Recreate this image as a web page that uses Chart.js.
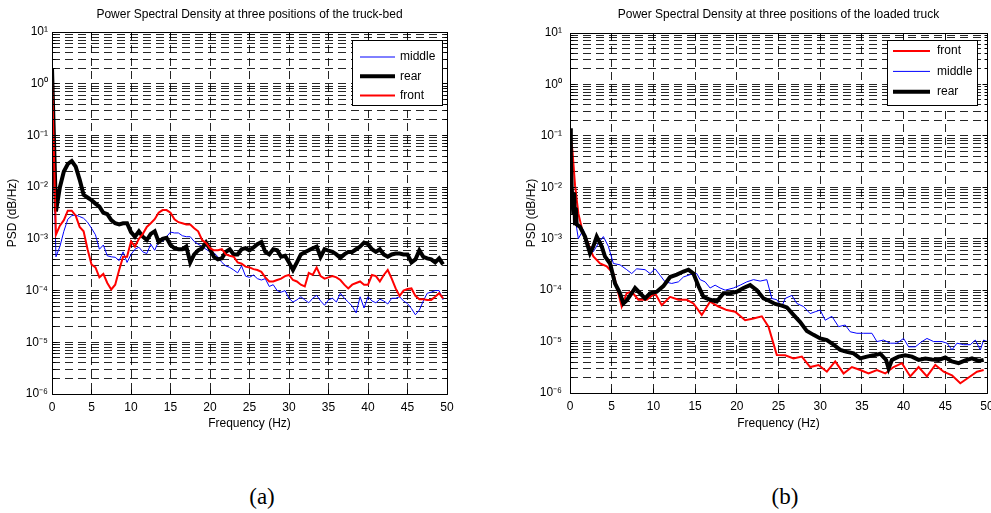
<!DOCTYPE html>
<html><head><meta charset="utf-8">
<script src="https://cdn.jsdelivr.net/npm/chart.js@4/dist/chart.umd.min.js"></script>
<style>
html,body{margin:0;padding:0;width:991px;height:513px;overflow:hidden;background:#fff;}
#c1{position:absolute;left:0;top:0;}
#c2{position:absolute;left:500px;top:0;}
.cap{position:absolute;top:484px;font-family:"Liberation Serif","Times New Roman",serif;font-size:23px;color:#000;transform:translateX(-50%);white-space:nowrap;}
</style></head><body>
<canvas id="c1" width="470" height="440"></canvas>
<canvas id="c2" width="520" height="440"></canvas>
<div class="cap" style="left:262px">(a)</div>
<div class="cap" style="left:785px">(b)</div>
<script>
// ---------- DATA ----------
const titleA = 'Power Spectral Density at three positions of the truck-bed';
const titleB = 'Power Spectral Density at three positions of the loaded truck';
const xTitle = 'Frequency (Hz)';
const yTitle = 'PSD (dB/Hz)';
const yTickLabels = ['10⁻⁶','10⁻⁵','10⁻⁴','10⁻³','10⁻²','10⁻¹','10⁰','10¹'];
const yMinExp = -6, yMaxExp = 1;

// (a) truck-bed, sampled every 0.5 Hz
const freqA = [0,0.5,1,1.5,2,2.5,3,3.5,4,4.5,5,5.5,6,6.5,7,7.5,8,8.5,9,9.5,
  10,10.5,11,11.5,12,12.5,13,13.5,14,14.5,15,15.5,16,16.5,17,17.5,18,18.5,19,19.5,
  20,20.5,21,21.5,22,22.5,23,23.5,24,24.5,25,25.5,26,26.5,27,27.5,28,28.5,29,29.5,
  30,30.5,31,31.5,32,32.5,33,33.5,34,34.5,35,35.5,36,36.5,37,37.5,38,38.5,39,39.5,
  40,40.5,41,41.5,42,42.5,43,43.5,44,44.5,45,45.5,46,46.5,47,47.5,48,48.5,49,49.5];
const middleA = [5.0e-1,4.5e-4,7.1e-4,1.4e-3,2.4e-3,2.8e-3,2.9e-3,2.7e-3,2.5e-3,2.1e-3,
  1.6e-3,1.2e-3,6.3e-4,7.6e-4,4.7e-4,4.5e-4,4.4e-4,3.8e-4,5.6e-4,3.5e-4,
  5.0e-4,6.3e-4,6.9e-4,5.6e-4,5.2e-4,7.9e-4,6.0e-4,9.1e-4,8.9e-4,1.1e-3,
  1.35e-3,1.3e-3,1.3e-3,1.15e-3,1.1e-3,1.1e-3,8.9e-4,7.9e-4,7.1e-4,6.3e-4,
  5.6e-4,5.4e-4,4.5e-4,3.5e-4,3.0e-4,2.8e-4,2.5e-4,2.2e-4,3.0e-4,1.9e-4,
  1.8e-4,2.0e-4,1.7e-4,1.6e-4,1.7e-4,1.2e-4,1.3e-4,1.0e-4,9.3e-5,1.0e-4,
  7.1e-5,6.0e-5,6.6e-5,7.6e-5,6.6e-5,5.8e-5,7.1e-5,8.1e-5,6.3e-5,5.2e-5,
  6.6e-5,7.1e-5,6.0e-5,8.9e-5,7.1e-5,6.0e-5,5.0e-5,3.7e-5,7.6e-5,4.6e-5,
  7.6e-5,6.3e-5,5.8e-5,6.8e-5,6.3e-5,5.5e-5,7.1e-5,7.1e-5,7.6e-5,6.3e-5,
  5.6e-5,4.5e-5,3.4e-5,4.2e-5,6.3e-5,8.9e-5,9.3e-5,1.0e-4,1.0e-4,6.6e-5];
const rearA = [2.0,3.4e-3,1.0e-2,2.0e-2,2.8e-2,3.2e-2,2.5e-2,1.4e-2,7.1e-3,6.3e-3,
  5.6e-3,4.8e-3,4.2e-3,3.2e-3,3.0e-3,2.3e-3,2.0e-3,1.9e-3,2.0e-3,2.0e-3,
  1.35e-3,1.1e-3,1.4e-3,1.1e-3,9.5e-4,1.25e-3,1.4e-3,8.7e-4,1.0e-3,1.05e-3,
  7.6e-4,6.6e-4,6.3e-4,6.3e-4,7.1e-4,3.5e-4,5.0e-4,6.0e-4,6.6e-4,8.5e-4,
  6.3e-4,4.5e-4,4.0e-4,4.2e-4,5.6e-4,6.3e-4,5.0e-4,5.0e-4,6.3e-4,6.6e-4,
  6.0e-4,6.8e-4,7.9e-4,8.7e-4,5.6e-4,5.0e-4,6.3e-4,6.0e-4,4.5e-4,4.7e-4,
  3.5e-4,2.5e-4,3.5e-4,5.0e-4,5.5e-4,6.0e-4,6.6e-4,7.1e-4,4.5e-4,6.3e-4,
  5.9e-4,5.6e-4,5.0e-4,4.3e-4,5.0e-4,5.6e-4,5.6e-4,6.3e-4,7.1e-4,8.5e-4,
  7.9e-4,6.3e-4,5.6e-4,6.3e-4,5.0e-4,4.5e-4,5.0e-4,5.2e-4,5.2e-4,5.0e-4,
  5.0e-4,3.5e-4,4.0e-4,6.0e-4,4.5e-4,4.2e-4,4.0e-4,3.5e-4,4.2e-4,3.2e-4];
const frontA = [1.2,1.2e-3,1.8e-3,2.3e-3,3.5e-3,3.5e-3,2.8e-3,1.7e-3,1.4e-3,6.3e-4,
  3.2e-4,2.8e-4,1.8e-4,2.1e-4,1.4e-4,1.05e-4,1.3e-4,2.5e-4,4.5e-4,4.5e-4,
  8.9e-4,7.1e-4,1.0e-3,1.25e-3,1.7e-3,2.0e-3,2.4e-3,3.2e-3,3.6e-3,3.6e-3,
  3.2e-3,2.4e-3,2.1e-3,2.0e-3,1.9e-3,1.9e-3,1.6e-3,1.4e-3,9.5e-4,8.3e-4,
  6.6e-4,6.0e-4,6.0e-4,6.3e-4,5.0e-4,4.7e-4,4.5e-4,3.5e-4,3.3e-4,2.9e-4,
  2.8e-4,2.6e-4,2.5e-4,2.3e-4,1.8e-4,1.5e-4,1.5e-4,1.6e-4,1.7e-4,1.9e-4,
  2.0e-4,1.6e-4,1.5e-4,1.3e-4,1.2e-4,2.2e-4,2.0e-4,2.8e-4,1.9e-4,1.7e-4,
  1.8e-4,1.9e-4,1.8e-4,1.6e-4,1.3e-4,1.1e-4,1.3e-4,1.4e-4,1.5e-4,1.3e-4,
  1.3e-4,2.0e-4,1.9e-4,1.5e-4,2.0e-4,2.5e-4,1.7e-4,1.1e-4,7.9e-5,1.0e-4,
  1.07e-4,1.1e-4,7.9e-5,6.8e-5,6.8e-5,6.6e-5,6.6e-5,7.6e-5,8.9e-5,7.1e-5];

// (b) loaded truck
const freqBFront = [0,0.3,0.6,1,1.5,2,2.8,3.6,4.4,5.2,
  5.8,6.2,6.8,7.4,8.2,9.2,10.2,11,12,13,
  14,14.8,15.8,16.8,17.8,18.8,19.8,21,22,23,
  23.8,24.8,25.8,26.8,27.8,28.8,29.8,30.8,31.8,32.8,
  33.8,34.8,35.8,36.8,37.8,38.8,39.8,40.8,41.8,42.8,
  43.8,44.8,45.8,46.8,47.8,48.8,49.6];
const frontB = [0.13,5.0e-2,1.1e-2,3.1e-3,1.4e-3,9.5e-4,4.5e-4,3.3e-4,2.9e-4,2.1e-4,
  8.7e-5,4.8e-5,8.7e-5,9.3e-5,6.5e-5,6.5e-5,8.7e-5,5.1e-5,7.4e-5,6.5e-5,
  6.5e-5,5.5e-5,3.3e-5,6.0e-5,4.8e-5,4.1e-5,3.8e-5,2.6e-5,2.8e-5,3.1e-5,
  1.95e-5,5.5e-6,5.4e-6,4.7e-6,5.1e-6,3.2e-6,3.5e-6,2.6e-6,4.1e-6,2.4e-6,
  3.2e-6,2.8e-6,2.4e-6,2.8e-6,2.4e-6,3.2e-6,3.8e-6,2.1e-6,3.2e-6,2.1e-6,
  3.5e-6,2.6e-6,2.2e-6,1.55e-6,2.0e-6,2.6e-6,2.8e-6];
const freqBMiddle = [0,0.3,0.8,1.0,1.6,2.2,2.8,3.4,4.0,4.6,
  5.2,6.0,6.8,7.4,8.0,9.0,9.6,10.2,10.8,11.4,
  12.2,13.0,13.6,14.4,15.2,15.6,16.2,16.8,17.4,18.0,
  18.6,19.6,20.4,21.2,22.0,22.8,23.6,24.2,24.8,25.4,
  25.8,26.6,27.2,28.0,28.8,29.4,30.0,30.6,31.4,32.2,
  33.0,33.6,34.4,35.2,36.2,36.8,37.6,38.4,39.2,40.0,
  40.6,41.4,42.2,42.8,43.6,44.6,45.2,45.8,46.4,47.2,
  48.0,48.6,49.2,49.6,50.0];
const middleB = [2.0e-2,8.9e-3,1.6e-3,1.0e-3,1.5e-3,7.1e-4,5.6e-4,8.1e-4,1.1e-3,7.1e-4,
  3.3e-4,3.1e-4,2.5e-4,2.1e-4,2.6e-4,2.5e-4,2.1e-4,2.6e-4,1.95e-4,1.45e-4,
  1.35e-4,1.45e-4,1.8e-4,2.0e-4,2.1e-4,1.6e-4,1.45e-4,1.1e-4,1.25e-4,1.1e-4,
  1.0e-4,1.1e-4,1.25e-4,1.45e-4,1.6e-4,1.5e-4,1.6e-4,6.9e-5,6.5e-5,4.8e-5,
  6.9e-5,7.9e-5,5.5e-5,4.8e-5,3.5e-5,3.8e-5,4.1e-5,2.6e-5,3.1e-5,1.95e-5,
  2.1e-5,1.55e-5,1.45e-5,1.45e-5,1.45e-5,1.0e-5,1.07e-5,9.3e-6,9.3e-6,1.15e-5,
  7.9e-6,7.9e-6,1.0e-5,1.15e-5,1.0e-5,1.0e-5,9.3e-6,6.9e-6,9.3e-6,8.7e-6,
  8.7e-6,1.07e-5,6.9e-6,1.07e-5,1.0e-5];
const freqBRear = [0,0.1,0.2,0.4,0.5,0.6,0.7,0.8,1.2,1.8,
  2.4,2.8,3.2,3.8,4.2,4.8,5.4,6.0,6.4,6.8,
  7.4,7.8,8.4,9.0,9.6,10.4,11.2,12.0,12.8,13.6,
  14.2,14.8,15.4,16.0,16.8,17.6,18.4,19.2,20.0,20.8,
  21.6,22.4,23.2,23.8,24.6,25.4,26.0,26.8,27.6,28.4,
  29.2,30.0,30.8,31.6,32.4,33.2,34.0,34.8,35.6,36.4,
  37.2,37.9,38.2,38.6,39.4,40.2,41.0,41.8,42.6,43.4,
  44.2,45.0,45.8,46.6,47.4,48.2,49.0,49.6];
const rearB = [0.14,4.0e-2,1.0e-2,3.0e-3,7.9e-3,2.0e-3,4.0e-3,1.9e-3,1.7e-3,1.1e-3,
  5.2e-4,7.1e-4,1.1e-3,7.1e-4,4.5e-4,3.3e-4,1.35e-4,8.7e-5,5.5e-5,6.3e-5,
  8.7e-5,1.1e-4,8.7e-5,6.9e-5,8.7e-5,9.3e-5,1.2e-4,1.8e-4,2.0e-4,2.3e-4,
  2.5e-4,2.1e-4,1.2e-4,7.4e-5,6.5e-5,6.0e-5,8.7e-5,8.7e-5,9.3e-5,1.1e-4,
  1.25e-4,1.0e-4,6.9e-5,6.3e-5,5.4e-5,5.0e-5,4.6e-5,3.3e-5,2.4e-5,1.6e-5,
  1.35e-5,1.15e-5,1.07e-5,8.7e-6,6.9e-6,6.3e-6,5.9e-6,4.7e-6,5.1e-6,5.4e-6,
  5.8e-6,4.4e-6,3.0e-6,4.4e-6,5.1e-6,5.4e-6,5.1e-6,4.4e-6,4.7e-6,4.5e-6,
  4.4e-6,4.9e-6,4.1e-6,3.8e-6,4.3e-6,4.7e-6,4.2e-6,4.4e-6];

// ---------- RENDERING ----------
const FONT = '"Liberation Sans", Arial, Helvetica, sans-serif';
Chart.defaults.font.family = FONT;
Chart.defaults.color = '#000';
const GRID = 'rgba(0,0,0,0.85)';
const DASH = [8, 5];
const al = v => Math.round(v - 0.5) + 0.5;

function pts(xs, ys) { return xs.map((x, i) => ({x: x, y: ys[i]})); }

const frame = {
  id: 'frame',
  afterDatasetsDraw(chart) {
    const {ctx, chartArea: a, scales} = chart;
    const L = al(a.left), R = al(a.right), T = al(a.top), B = al(a.bottom);
    ctx.save();
    ctx.setLineDash([]);
    ctx.strokeStyle = '#000';
    ctx.lineWidth = 1;
    ctx.beginPath();
    scales.x.ticks.forEach(t => {
      const p = al(scales.x.getPixelForValue(t.value));
      ctx.moveTo(p, B); ctx.lineTo(p, B - 5);
      ctx.moveTo(p, T); ctx.lineTo(p, T + 5);
    });
    scales.y.ticks.forEach(t => {
      const p = al(scales.y.getPixelForValue(t.value));
      const len = t.major ? 5 : 3;
      ctx.moveTo(L, p); ctx.lineTo(L + len, p);
      ctx.moveTo(R, p); ctx.lineTo(R - len, p);
    });
    ctx.rect(L, T, R - L, B - T);
    ctx.stroke();
    ctx.restore();
  }
};

const legendBox = {
  id: 'legendBox',
  afterDraw(chart, args, o) {
    const {ctx, chartArea: a} = chart;
    const x = Math.round(a.right - o.right - o.width), y = Math.round(a.top + o.top);
    ctx.save();
    ctx.setLineDash([]);
    ctx.fillStyle = '#fff';
    ctx.fillRect(x, y, o.width, o.height);
    ctx.strokeStyle = '#000';
    ctx.lineWidth = 1;
    ctx.strokeRect(x + 0.5, y + 0.5, o.width, o.height);
    ctx.font = '12px ' + FONT;
    ctx.textBaseline = 'middle';
    ctx.textAlign = 'left';
    chart.data.datasets.forEach((ds, i) => {
      const yy = y + o.rowStart + i * o.rowGap;
      ctx.strokeStyle = ds.borderColor;
      ctx.lineWidth = ds.borderWidth;
      ctx.beginPath();
      ctx.moveTo(x + o.sampleX, yy);
      ctx.lineTo(x + o.sampleX + o.sampleLen, yy);
      ctx.stroke();
      ctx.fillStyle = '#000';
      ctx.fillText(ds.label, x + o.textX, yy);
    });
    ctx.restore();
  }
};

function yTicks(scale) {
  const t = [];
  for (let e = yMinExp; e < yMaxExp; e++) {
    for (let m = 1; m <= 9; m++) t.push({value: m * Math.pow(10, e), major: m === 1});
  }
  t.push({value: Math.pow(10, yMaxExp), major: true});
  scale.ticks = t;
}
function yLabel(v) {
  const l = Math.log10(v), e = Math.round(l);
  return Math.abs(l - e) < 1e-6 ? yTickLabels[e - yMinExp] : '';
}

function options(o) {
  return {
    responsive: false,
    animation: false,
    events: [],
    layout: {padding: {left: 0, right: o.padRight, top: 0, bottom: 0}},
    plugins: {
      legend: {display: false},
      tooltip: {enabled: false},
      title: {display: true, text: o.title, fullSize: false, color: '#000',
        font: {size: 12, weight: 'normal'}, padding: {top: o.titleTop, bottom: o.titleBottom}},
      legendBox: o.legend
    },
    scales: {
      x: {
        type: 'linear', min: 0, max: 50,
        ticks: {stepSize: 5, autoSkip: false, maxRotation: 0, padding: 6, color: '#000', font: {size: 12}},
        grid: {color: GRID, lineWidth: 1, drawTicks: false, borderDash: DASH},
        border: {display: false, dash: DASH},
        title: {display: true, text: xTitle, color: '#000', font: {size: 12}, padding: {top: 0, bottom: o.xTitleBottom}},
        afterFit(s) { s.height = o.xAxisH; }
      },
      y: {
        type: 'logarithmic', min: 1e-6, max: 10,
        afterBuildTicks: yTicks,
        ticks: {autoSkip: false, padding: o.yTickPad, color: '#000', font: {size: 12}, callback: yLabel},
        grid: {color: GRID, lineWidth: 1, drawTicks: false, borderDash: DASH},
        border: {display: false, dash: DASH},
        title: {display: true, text: yTitle, color: '#000', font: {size: 12}, padding: {top: o.yTitlePad, bottom: 0}},
        afterFit(s) { s.width = o.yAxisW; }
      }
    }
  };
}

function ds(label, xs, ys, color, width, order) {
  return {label: label, data: pts(xs, ys), borderColor: color, backgroundColor: color,
    borderWidth: width, pointRadius: 0, tension: 0, fill: false, order: order};
}

new Chart(document.getElementById('c1'), {
  type: 'line',
  data: {datasets: [
    ds('middle', freqA, middleA, '#0000ff', 1, 3),
    ds('rear', freqA, rearA, '#000000', 4, 2),
    ds('front', freqA, frontA, '#ff0000', 2, 1)
  ]},
  options: options({title: titleA, padRight: 23, titleTop: 7.8, titleBottom: 9.8,
    xAxisH: 46, xTitleBottom: 9.4, yAxisW: 52, yTickPad: 4, yTitlePad: 5,
    legend: {width: 90, height: 65, right: 5, top: 8, sampleX: 8, sampleLen: 35, textX: 48, rowStart: 17, rowGap: 19.3}}),
  plugins: [frame, legendBox]
});

new Chart(document.getElementById('c2'), {
  type: 'line',
  data: {datasets: [
    ds('front', freqBFront, frontB, '#ff0000', 2, 3),
    ds('middle', freqBMiddle, middleB, '#0000ff', 1, 2),
    ds('rear', freqBRear, rearB, '#000000', 4, 1)
  ]},
  options: options({title: titleB, padRight: 33, titleTop: 7.8, titleBottom: 10.8,
    xAxisH: 47, xTitleBottom: 9.4, yAxisW: 70, yTickPad: 8, yTitlePad: 24,
    legend: {width: 90, height: 65, right: 10, top: 7, sampleX: 6, sampleLen: 37, textX: 50, rowStart: 11, rowGap: 20.4}}),
  plugins: [frame, legendBox]
});
</script>
</body></html>
